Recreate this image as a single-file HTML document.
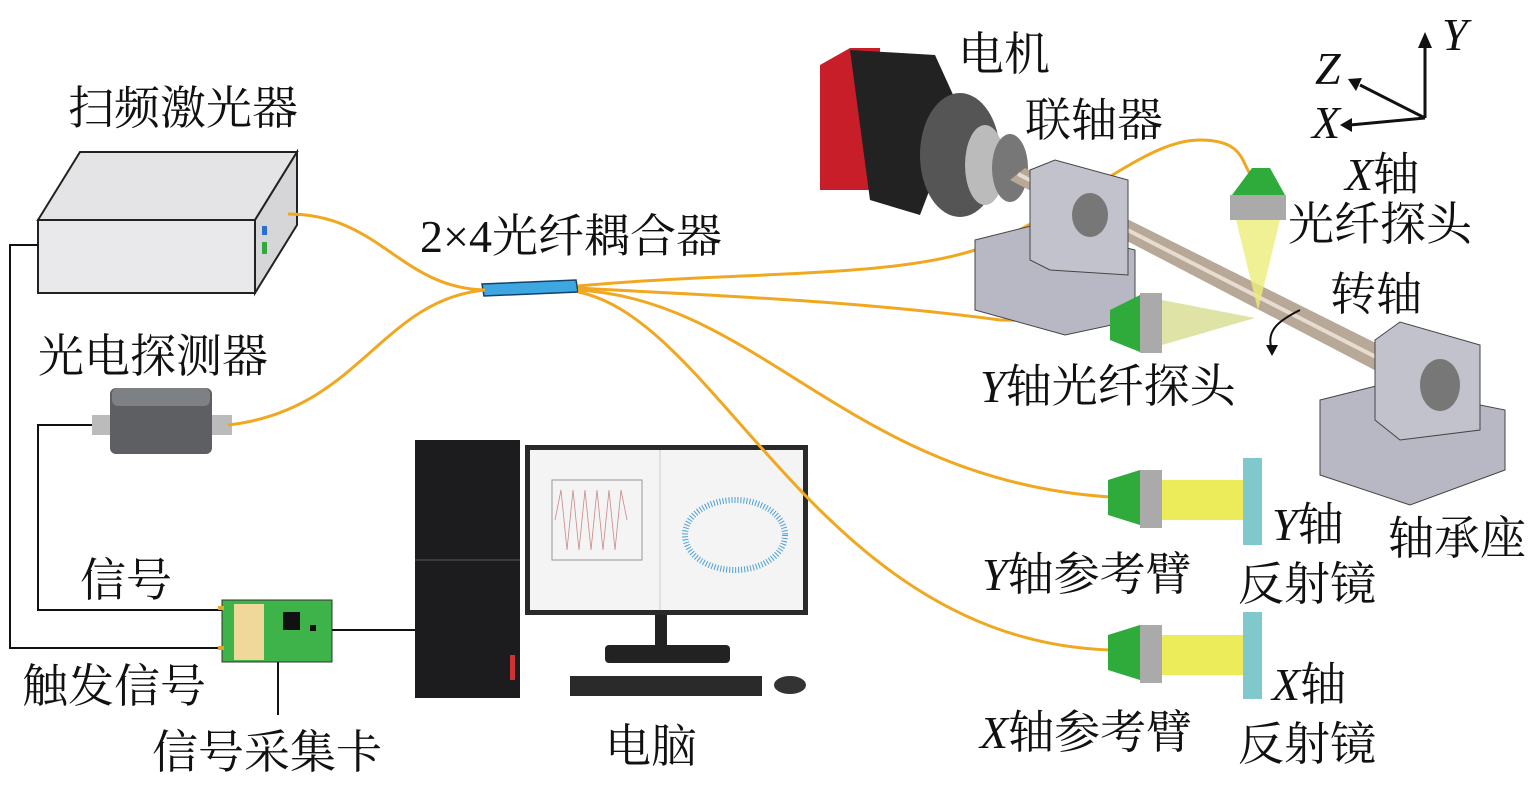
<!DOCTYPE html>
<html><head><meta charset="utf-8"><style>
html,body{margin:0;padding:0;background:#fff;}
svg text{font-family:"Liberation Serif","Noto Serif CJK SC",serif;fill:#111;}
</style></head><body>
<svg width="1535" height="787" viewBox="0 0 1535 787" xmlns="http://www.w3.org/2000/svg">
<polygon points="38,220 80,152 297,152 255,220" fill="#e4e4e6" stroke="#222" stroke-width="2"/>
<polygon points="38,220 255,220 255,293 38,293" fill="#e9e9eb" stroke="#222" stroke-width="2"/>
<polygon points="255,220 297,152 297,225 255,293" fill="#d6d6d8" stroke="#222" stroke-width="2"/>
<rect x="262" y="226" width="5" height="9" fill="#2a6fd0"/>
<rect x="262" y="242" width="5" height="12" fill="#2eab3a"/>
<polyline points="38,245 10,245 10,648 225,648" fill="none" stroke="#111" stroke-width="2"/>
<polyline points="95,425 38,425 38,610 225,610" fill="none" stroke="#111" stroke-width="2"/>
<line x1="332" y1="630" x2="418" y2="630" stroke="#111" stroke-width="2"/>
<line x1="278" y1="662" x2="278" y2="715" stroke="#111" stroke-width="2"/>
<rect x="92" y="415" width="20" height="20" fill="#bbb"/>
<rect x="210" y="415" width="22" height="20" fill="#bbb"/>
<rect x="110" y="388" width="102" height="66" rx="6" fill="#5d5f63"/>
<rect x="112" y="388" width="98" height="18" rx="6" fill="#7d8085"/>
<rect x="222" y="600" width="110" height="62" fill="#3db34a" stroke="#333"/>
<rect x="234" y="604" width="30" height="56" fill="#f0d79a"/>
<rect x="283" y="612" width="17" height="18" fill="#111"/>
<rect x="310" y="625" width="6" height="6" fill="#111"/>
<rect x="218" y="606" width="6" height="4" fill="#e2a72e"/>
<rect x="218" y="646" width="6" height="4" fill="#e2a72e"/>
<rect x="415" y="440" width="105" height="258" fill="#1c1c1e"/>
<line x1="415" y1="560" x2="520" y2="560" stroke="#3a3a3c" stroke-width="2"/>
<rect x="510" y="655" width="5" height="25" fill="#c33"/>
<rect x="525" y="445" width="283" height="170" fill="#2a2a2c"/>
<rect x="530" y="450" width="273" height="160" fill="#f4f4f4"/>
<line x1="660" y1="450" x2="660" y2="610" stroke="#ccc"/>
<rect x="552" y="480" width="90" height="80" fill="none" stroke="#999"/>
<path d="M555,520 l6,-30 l6,60 l6,-60 l6,60 l6,-60 l6,60 l6,-60 l6,60 l6,-60 l6,60 l6,-60 l6,30" fill="none" stroke="#c88" stroke-width="0.8"/>
<ellipse cx="735" cy="535" rx="50" ry="35" fill="none" stroke="#4aa0d8" stroke-width="6" stroke-dasharray="1 2"/>
<rect x="655" y="615" width="12" height="32" fill="#222"/>
<rect x="605" y="645" width="125" height="18" rx="4" fill="#222"/>
<rect x="570" y="676" width="192" height="20" fill="#2a2a2a"/>
<ellipse cx="790" cy="685" rx="16" ry="9" fill="#333"/>
<polygon points="482,284 576,280 578,292 484,296" fill="#3ea6e0" stroke="#12436b" stroke-width="1.5"/>
<g fill="none" stroke="#f0a820" stroke-width="3">
<path d="M288,214 C380,214 400,288 485,290"/>
<path d="M228,425 C360,410 380,300 485,290"/>
<path d="M578,286 C750,270 920,280 1000,240 C1100,190 1150,140 1200,140 C1250,140 1240,170 1255,178"/>
<path d="M578,288 C700,295 850,300 1000,320 L1110,322"/>
<path d="M578,290 C760,300 850,480 1110,497"/>
<path d="M578,292 C720,320 820,640 1110,650"/>
</g>
<polygon points="820,65 850,48 880,48 880,190 820,190" fill="#c81e2a"/>
<polygon points="850,50 935,55 960,110 920,215 870,200" fill="#222"/>
<ellipse cx="960" cy="155" rx="40" ry="62" fill="#555"/>
<ellipse cx="985" cy="165" rx="20" ry="40" fill="#bbb"/>
<ellipse cx="1010" cy="168" rx="18" ry="34" fill="#777"/>
<polygon points="1010,180 1025,168 1470,390 1455,412" fill="#b8a898"/>
<line x1="1018" y1="174" x2="1462" y2="401" stroke="#e6dcd0" stroke-width="4"/>
<ellipse cx="1465" cy="400" rx="13" ry="20" fill="#111"/>
<polygon points="975,240 1035,225 1135,250 1135,320 1065,335 975,310" fill="#b8b8c4" stroke="#444"/>
<polygon points="1030,170 1055,160 1128,180 1128,275 1050,270 1030,260" fill="#c2c2cc" stroke="#444"/>
<ellipse cx="1090" cy="215" rx="18" ry="22" fill="#777"/>
<polygon points="1320,400 1380,385 1505,410 1505,470 1410,505 1320,475" fill="#b8b8c4" stroke="#444"/>
<polygon points="1375,340 1400,322 1480,345 1480,430 1400,440 1375,420" fill="#c2c2cc" stroke="#444"/>
<ellipse cx="1440" cy="385" rx="20" ry="26" fill="#777"/>
<polygon points="1252,168 1270,168 1285,195 1232,195" fill="#2eab3a"/>
<rect x="1230" y="195" width="56" height="25" fill="#aaa"/>
<polygon points="1236,220 1280,220 1258,310" fill="#ecec7a" opacity="0.8"/>
<polygon points="1110,310 1140,295 1140,352 1110,340" fill="#2eab3a"/>
<rect x="1140" y="293" width="22" height="60" fill="#aaa"/>
<polygon points="1162,300 1255,318 1162,345" fill="#d8dc90" opacity="0.8"/>
<path d="M1300,310 C1280,320 1265,330 1272,350" fill="none" stroke="#111" stroke-width="2"/>
<polygon points="1266,345 1278,345 1272,356" fill="#111"/>
<polygon points="1108,480 1140,470 1140,525 1108,515" fill="#2eab3a"/>
<rect x="1140" y="470" width="22" height="58" fill="#aaa"/>
<rect x="1162" y="480" width="82" height="40" fill="#ecec5a"/>
<rect x="1243" y="458" width="19" height="87" fill="#7fc8cc"/>
<polygon points="1108,635 1140,625 1140,680 1108,670" fill="#2eab3a"/>
<rect x="1140" y="625" width="22" height="58" fill="#aaa"/>
<rect x="1162" y="635" width="82" height="40" fill="#ecec5a"/>
<rect x="1243" y="612" width="19" height="87" fill="#7fc8cc"/>
<g stroke="#111" stroke-width="3" fill="none">
<line x1="1425" y1="118" x2="1425" y2="45"/>
<line x1="1425" y1="118" x2="1350" y2="125"/>
<line x1="1425" y1="118" x2="1360" y2="85"/>
</g>
<polygon points="1418,48 1432,48 1425,32" fill="#111"/>
<polygon points="1352,118 1352,132 1340,125" fill="#111"/>
<polygon points="1362,78 1356,91 1348,79" fill="#111"/>
<g font-size="46">
<text x="68" y="124">扫频激光器</text>
<text x="38" y="372">光电探测器</text>
<text x="80" y="596">信号</text>
<text x="22" y="702">触发信号</text>
<text x="152" y="768">信号采集卡</text>
<text x="605" y="762">电脑</text>
<text x="420" y="252">2×4光纤耦合器</text>
<text x="958" y="70">电机</text>
<text x="1025" y="136">联轴器</text>
<text x="1345" y="190"><tspan font-style="italic">X</tspan>轴</text>
<text x="1288" y="240">光纤探头</text>
<text x="1330" y="310">转轴</text>
<text x="980" y="402"><tspan font-style="italic">Y</tspan>轴光纤探头</text>
<text x="1272" y="540"><tspan font-style="italic">Y</tspan>轴</text>
<text x="1388" y="554">轴承座</text>
<text x="982" y="590"><tspan font-style="italic">Y</tspan>轴参考臂</text>
<text x="1238" y="600">反射镜</text>
<text x="1272" y="700"><tspan font-style="italic">X</tspan>轴</text>
<text x="980" y="748"><tspan font-style="italic">X</tspan>轴参考臂</text>
<text x="1238" y="760">反射镜</text>
<text x="1442" y="50" font-style="italic">Y</text>
<text x="1315" y="84" font-style="italic">Z</text>
<text x="1312" y="138" font-style="italic">X</text>
</g>
</svg>
</body></html>
